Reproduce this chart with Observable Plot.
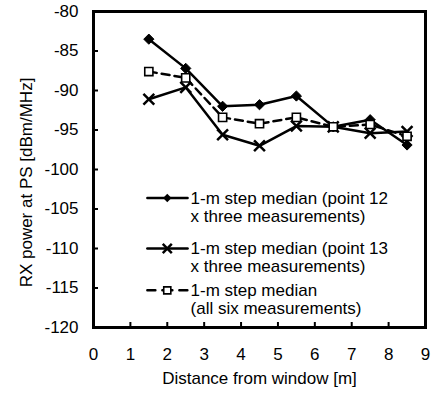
<!DOCTYPE html>
<html>
<head>
<meta charset="utf-8">
<script src="https://cdn.jsdelivr.net/npm/d3@7"></script>
<script src="https://cdn.jsdelivr.net/npm/@observablehq/plot@0.6"></script>
<style>
  html, body { margin: 0; padding: 0; background: white; }
</style>
</head>
<body>
<div id="chart"></div>
<script>
// Distance from window [m]
const distances = [1.5, 2.5, 3.5, 4.5, 5.5, 6.5, 7.5, 8.5];
// RX power at PS [dBm/MHz]
const point12 = [-83.5, -87.2, -92.0, -91.8, -90.7, -94.6, -93.7, -96.9];
const point13 = [-91.1, -89.6, -95.6, -97.0, -94.5, -94.6, -95.4, -95.2];
const allSix  = [-87.6, -88.4, -93.4, -94.2, -93.4, -94.6, -94.3, -95.8];

const seriesNames = [
  "1-m step median (point 12\nx three measurements)",
  "1-m step median (point 13\nx three measurements)",
  "1-m step median\n(all six measurements)"
];
const xTicks = [0, 1, 2, 3, 4, 5, 6, 7, 8, 9];
const yTicks = [-120, -115, -110, -105, -100, -95, -90, -85, -80];
const xTitle = "Distance from window [m]";
const yTitle = "RX power at PS [dBm/MHz]";

const rows = (vals) => distances.map((x, i) => ({x, y: vals[i]}));
const s1 = rows(point12), s2 = rows(point13), s3 = rows(allSix);

// legend layout (in scale units)
const legRowY = [-103.6, -110.0, -115.3];
const legX1 = 1.46, legX2 = 2.55, legXm = 2.0, legXt = 2.63;
const seg = (k) => [{x: legX1, y: legRowY[k]}, {x: legX2, y: legRowY[k]}];
const mid = (k) => [{x: legXm, y: legRowY[k]}];
const legText = seriesNames.map((t, k) => ({x: legXt, y: legRowY[k], t}));

const chart = Plot.plot({
  width: 432,
  height: 398,
  marginLeft: 93,
  marginRight: 7,
  marginTop: 11,
  marginBottom: 71,
  x: {domain: [0, 9]},
  y: {domain: [-120, -80]},
  style: {fontFamily: "'Liberation Sans', Arial, sans-serif", fontSize: "17px", color: "black", background: "white"},
  marks: [
    Plot.axisX(xTicks, {tickSize: 0, tickPadding: 20, label: null, tickFormat: d => String(d)}),
    Plot.axisY(yTicks, {tickSize: 0, tickPadding: 15, label: null, tickFormat: d => String(d)}),
    Plot.ruleX(xTicks.slice(1, -1), {x: d => d, y1: -120, y2: -120, insetTop: -5, stroke: "black", strokeWidth: 2}),
    Plot.ruleY(yTicks.slice(1, -1), {y: d => d, x1: 0, x2: 0, insetRight: -5, stroke: "black", strokeWidth: 2}),
    Plot.text([xTitle], {frameAnchor: "bottom", dy: 51, textAnchor: "middle", lineAnchor: "middle", text: d => d}),
    Plot.text([yTitle], {frameAnchor: "left", dx: -67, dy: 13, rotate: -90, textAnchor: "middle", lineAnchor: "middle", text: d => d}),

    // series
    Plot.line(s1, {x: "x", y: "y", stroke: "black", strokeWidth: 2.5}),
    Plot.line(s2, {x: "x", y: "y", stroke: "black", strokeWidth: 2.5}),
    Plot.line(s3, {x: "x", y: "y", stroke: "black", strokeWidth: 2.5, strokeDasharray: "8,5"}),
    Plot.dot(s1, {x: "x", y: "y", symbol: "diamond2", r: 4.6, fill: "black", stroke: "black", strokeWidth: 1}),
    Plot.dot(s2, {x: "x", y: "y", symbol: "times", r: 5, stroke: "black", strokeWidth: 2.5}),
    Plot.dot(s3, {x: "x", y: "y", symbol: "square", r: 4.6, fill: "white", stroke: "black", strokeWidth: 1.6}),

    // legend
    Plot.line(seg(0), {x: "x", y: "y", stroke: "black", strokeWidth: 2.5}),
    Plot.dot(mid(0), {x: "x", y: "y", symbol: "diamond2", r: 3.8, fill: "black"}),
    Plot.line(seg(1), {x: "x", y: "y", stroke: "black", strokeWidth: 2.5}),
    Plot.dot(mid(1), {x: "x", y: "y", symbol: "times", r: 4.2, stroke: "black", strokeWidth: 2.5}),
    Plot.line(seg(2), {x: "x", y: "y", stroke: "black", strokeWidth: 2.5, strokeDasharray: "8,7,10,7,8"}),
    Plot.dot(mid(2), {x: "x", y: "y", symbol: "square", r: 4, fill: "white", stroke: "black", strokeWidth: 1.6}),
    Plot.text(legText, {x: "x", y: "y", text: "t", textAnchor: "start", lineAnchor: "middle", lineHeight: 1.06, dy: 9}),

    Plot.frame({stroke: "black", strokeWidth: 3})
  ]
});
document.getElementById("chart").appendChild(chart);
</script>
</body>
</html>
